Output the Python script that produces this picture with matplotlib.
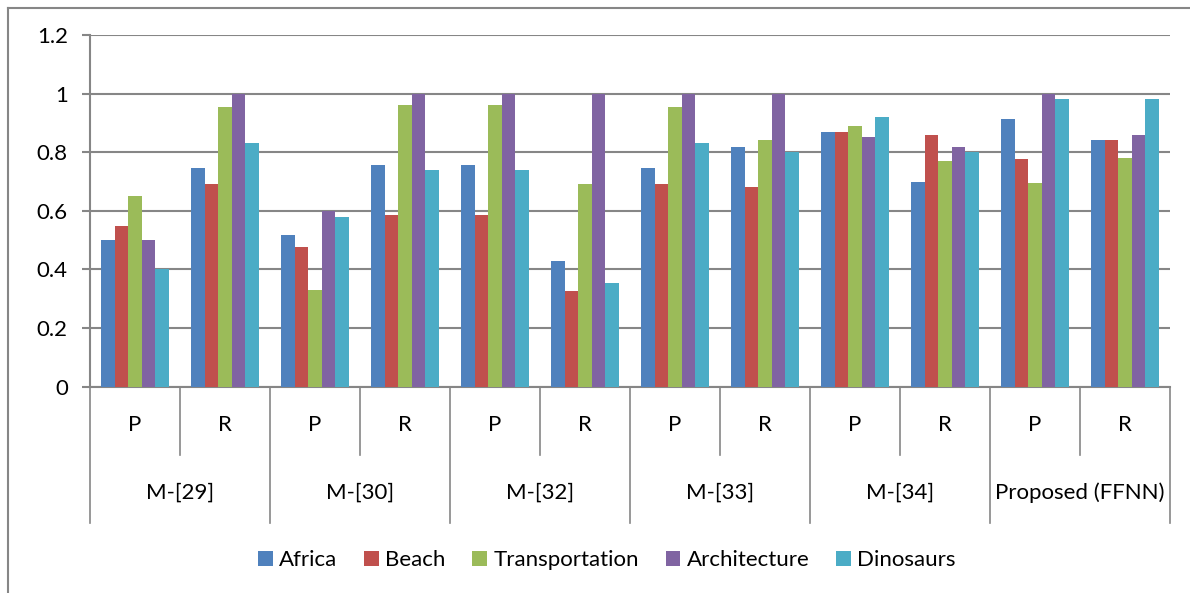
import matplotlib
matplotlib.use("Agg")
import matplotlib.pyplot as plt
import matplotlib.transforms as mtransforms
from matplotlib.lines import Line2D
import numpy as np

plt.rcParams['font.family'] = ['Lato', 'DejaVu Sans']

methods = ["M-[29]", "M-[30]", "M-[32]", "M-[33]", "M-[34]", "Proposed (FFNN)"]
metrics = ["P", "R"]
series_names = ["Africa", "Beach", "Transportation", "Architecture", "Dinosaurs"]

africa = [0.50, 0.745, 0.517, 0.758, 0.758, 0.43, 0.745, 0.819, 0.869, 0.70, 0.914, 0.841]
beach = [0.55, 0.693, 0.478, 0.585, 0.585, 0.328, 0.693, 0.68, 0.869, 0.858, 0.777, 0.841]
transportation = [0.65, 0.955, 0.33, 0.96, 0.96, 0.693, 0.955, 0.841, 0.889, 0.769, 0.695, 0.78]
architecture = [0.50, 1.0, 0.60, 1.0, 1.0, 1.0, 1.0, 1.0, 0.851, 0.819, 1.0, 0.858]
dinosaurs = [0.40, 0.833, 0.578, 0.74, 0.74, 0.353, 0.833, 0.80, 0.919, 0.80, 0.983, 0.983]

series = [africa, beach, transportation, architecture, dinosaurs]
colors = ["#4F81BD", "#C0504D", "#9BBB59", "#8064A2", "#4BACC6"]
grid_color = "#868686"
fs = 16

W, H = 1190, 593
fig = plt.figure(figsize=(W / 100, H / 100), dpi=100)

left_px, right_px, top_px, zero_px = 90, 1170, 35, 386.7
ax = fig.add_axes([left_px / W, 1 - zero_px / H, (right_px - left_px) / W, (zero_px - top_px) / H])

n_cat = len(methods) * len(metrics)
x = np.arange(n_cat)
bw = 0.15
for i, (vals, c, name) in enumerate(zip(series, colors, series_names)):
    ax.bar(x + (i - 2) * bw, vals, width=bw, color=c, label=name, zorder=3)

ax.set_xlim(-0.5, n_cat - 0.5)
ax.set_ylim(0, 1.2)
ax.set_yticks(np.arange(0, 1.21, 0.2))
ax.set_yticklabels(["0", "0.2", "0.4", "0.6", "0.8", "1", "1.2"], fontsize=fs)
ax.yaxis.grid(True, color=grid_color, linewidth=1.5)
ax.set_axisbelow(True)
ax.tick_params(axis='y', length=6, width=1.5, color=grid_color, pad=10)
ax.set_xticks([])
for s in ["top", "right"]:
    ax.spines[s].set_visible(False)
ax.spines["left"].set_color(grid_color)
ax.spines["left"].set_linewidth(1.5)
ax.spines["bottom"].set_color(grid_color)
ax.spines["bottom"].set_linewidth(1.5)

# Two-level category axis drawn below the plot
trans = mtransforms.blended_transform_factory(ax.transData, ax.transAxes)
plot_h = zero_px - top_px
inner_y = -(455 - zero_px) / plot_h
outer_y = -(523 - zero_px) / plot_h
metric_y = -(425 - zero_px) / plot_h
method_y = -(493 - zero_px) / plot_h

for k in range(n_cat + 1):
    bound = k - 0.5
    bottom = outer_y if k % 2 == 0 else inner_y
    ax.add_line(Line2D([bound, bound], [0, bottom], transform=trans, color=grid_color,
                       linewidth=1.2, clip_on=False))

for k in range(n_cat):
    ax.text(k, metric_y, metrics[k % 2], transform=trans, ha='center', va='center', fontsize=fs)
for g, m in enumerate(methods):
    ax.text(2 * g + 0.5, method_y, m, transform=trans, ha='center', va='center', fontsize=fs)

# Chart-area border
fig.add_artist(Line2D([8 / W, 8 / W], [0, 1 - 8 / H], color=grid_color, linewidth=1.5))
fig.add_artist(Line2D([8 / W, 1], [1 - 8 / H, 1 - 8 / H], color=grid_color, linewidth=1.5))

fig.legend(loc='center', bbox_to_anchor=(607 / W, 1 - 560 / H), ncol=5, frameon=False,
           fontsize=fs, handlelength=0.65, handleheight=0.65, handletextpad=0.3,
           columnspacing=1.2)

fig.savefig("out.png", dpi=100)
